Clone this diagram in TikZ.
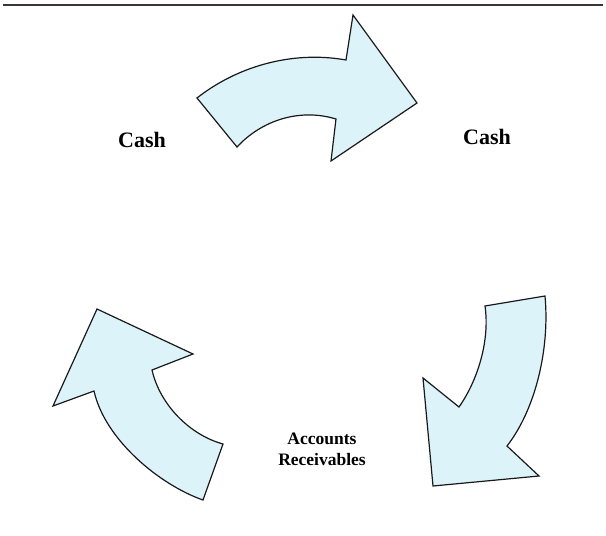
\documentclass[tikz,border=0pt]{standalone}
\usepackage{fontspec}
\setmainfont{Liberation Serif}
\usepackage{tikz}
\usetikzlibrary{positioning}
\definecolor{arrowfill}{RGB}{220,243,250}
\definecolor{rulegray}{RGB}{60,50,60}

\begin{document}
\begin{tikzpicture}[
        x=1pt, y=-1pt,
        bigarrow/.style = {draw=black!90, fill=arrowfill, line width=1.2pt, line join=miter},
        cashlbl/.style  = {font=\fontsize{22}{24}\selectfont\bfseries, inner sep=0pt},
        arlbl/.style    = {font=\fontsize{17.5}{21}\selectfont\bfseries, align=center, inner sep=0pt},
    ]
        \useasboundingbox (0,0) rectangle (606,536);
        % rule on top
        \coordinate (ruleL) at (3,5);
        \coordinate (ruleR) at (603,5);
        \draw[rulegray, line width=1.8pt] (ruleL) -- (ruleR);

        % top arrow, left to right
        \draw[bigarrow] (197,98) .. controls (235,68) and (290,50) .. (346,60)
            -- (353,15) -- (417,103) -- (331,161) -- (336,119)
            .. controls (300,108) and (262,120) .. (237,147) -- cycle;
        % right arrow, downwards
        \draw[bigarrow] (485,306) -- (545,296)
            .. controls (550,350) and (535,410) .. (507,446)
            -- (539,476) -- (433,486) -- (423,378) -- (459,407)
            .. controls (478,380) and (490,340) .. (485,306) -- cycle;
        % left arrow, upwards
        \draw[bigarrow] (203,500) .. controls (160,485) and (105,440) .. (94,391)
            -- (53,406) -- (97,309) -- (193,354) -- (152,370)
            .. controls (160,405) and (190,435) .. (223,444) -- cycle;

        \node[cashlbl] (cashL) at (142,140) {Cash};
        \node[cashlbl] (cashR) at (487,137) {Cash};
        \node[arlbl]   (recv)  at (322,449) {Accounts\\Receivables};
    \end{tikzpicture}
\end{document}
